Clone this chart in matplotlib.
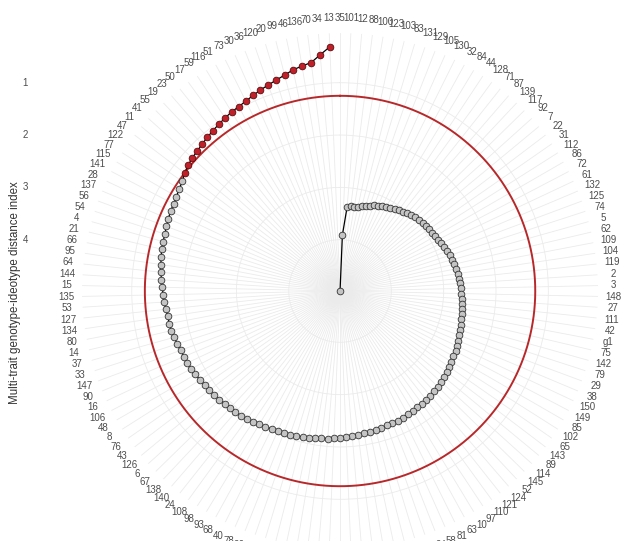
import numpy as np
import matplotlib
matplotlib.use("Agg")
import matplotlib.pyplot as plt
from matplotlib.transforms import ScaledTranslation

plt.rcParams["font.family"] = ["Liberation Sans", "DejaVu Sans"]

# genotypes in plotted order (clockwise from the top), ranked by MGIDI
genotypes = [
    "35", "101", "12", "88", "100", "123", "103", "83", "131", "129",
    "105", "130", "32", "84", "44", "128", "71", "87", "139", "117",
    "92", "7", "22", "31", "112", "86", "72", "61", "132", "125",
    "74", "5", "62", "109", "104", "119", "2", "3", "148", "27",
    "111", "42", "g1", "75", "142", "79", "29", "38", "150", "149",
    "85", "102", "65", "143", "89", "114", "145", "52", "124", "121",
    "110", "97", "10", "63", "81", "58", "94", "18", "146", "57",
    "26", "133", "9", "69", "113", "45", "82", "25", "107", "39",
    "91", "60", "118", "49", "96", "78", "40", "68", "93", "98",
    "108", "24", "140", "138", "67", "6", "126", "43", "76", "8",
    "48", "106", "16", "90", "147", "33", "37", "14", "80", "134",
    "127", "53", "135", "15", "144", "64", "95", "66", "21", "4",
    "54", "56", "137", "28", "141", "115", "77", "122", "47", "11",
    "41", "55", "19", "23", "50", "17", "59", "116", "51", "73",
    "30", "36", "120", "20", "99", "46", "136", "70", "34", "13",
]

mgidi = [
    4.98, 3.91, 3.37, 3.35, 3.35, 3.34, 3.31, 3.28, 3.25, 3.22,
    3.20, 3.17, 3.14, 3.12, 3.09, 3.07, 3.05, 3.02, 3.00, 2.97,
    2.95, 2.93, 2.91, 2.91, 2.90, 2.88, 2.86, 2.84, 2.82, 2.80,
    2.78, 2.76, 2.74, 2.72, 2.71, 2.70, 2.69, 2.67, 2.66, 2.65,
    2.63, 2.62, 2.61, 2.60, 2.59, 2.57, 2.55, 2.53, 2.51, 2.49,
    2.48, 2.46, 2.44, 2.42, 2.40, 2.38, 2.36, 2.35, 2.34, 2.33,
    2.32, 2.31, 2.30, 2.29, 2.28, 2.27, 2.26, 2.26, 2.25, 2.24,
    2.23, 2.22, 2.21, 2.20, 2.19, 2.18, 2.17, 2.15, 2.14, 2.13,
    2.11, 2.10, 2.09, 2.07, 2.06, 2.05, 2.04, 2.02, 2.00, 1.98,
    1.96, 1.94, 1.92, 1.91, 1.90, 1.88, 1.86, 1.84, 1.83, 1.81,
    1.79, 1.77, 1.75, 1.74, 1.73, 1.71, 1.69, 1.67, 1.66, 1.65,
    1.63, 1.61, 1.60, 1.58, 1.56, 1.54, 1.52, 1.50, 1.48, 1.47,
    1.46, 1.44, 1.42, 1.40, 1.39, 1.37, 1.34, 1.31, 1.25, 1.21,
    1.18, 1.16, 1.13, 1.10, 1.07, 1.04, 1.01, 0.98, 0.96, 0.93,
    0.89, 0.85, 0.81, 0.77, 0.72, 0.66, 0.62, 0.58, 0.45, 0.31,
]

n_selected = 22
r_ticks = [1, 2, 3, 4]

n = len(genotypes)
theta = 2 * np.pi * np.arange(n) / n
values = np.array(mgidi)
selected = np.arange(n) >= n - n_selected
cutpoint = values[selected].max()

fig = plt.figure(figsize=(6.34, 5.41), dpi=100)
ax = fig.add_axes([0.1294, -0.0148, 0.8139, 0.9538], projection="polar")
ax.set_theta_zero_location("N")
ax.set_theta_direction(-1)
ax.set_ylim(4.98, 0.05)  # reversed: lower index sits further out

# spokes and rings
ax.set_xticks(theta)
ax.set_xticklabels(genotypes, fontsize=7, color="#4d4d4d")
ax.set_yticks(r_ticks)
ax.set_yticklabels([])
ax.grid(True, color="#ebebeb", linewidth=0.6)
ax.spines["polar"].set_visible(False)
ax.tick_params(axis="x", pad=4, length=0)
ax.set_facecolor("white")

for lab, t in zip(ax.get_xticklabels(), theta):
    lab.set_rotation(-20 * np.sin(2 * t))

# cut point circle
circ = np.linspace(0, 2 * np.pi, 400)
ax.plot(circ, np.full_like(circ, cutpoint), color="#b8282a", linewidth=1.4, zorder=2)

# genotype path
ax.plot(theta, values, color="black", linewidth=0.9, zorder=3)
ax.plot(theta[~selected], values[~selected], "o", ms=4.8, mfc="#c4c4c4",
        mec="#333333", mew=0.6, zorder=4)
ax.plot(theta[selected], values[selected], "o", ms=4.8, mfc="#c0202a",
        mec="#5a0d0d", mew=0.6, zorder=4)

# radial axis labels drawn on the left, ggplot style
shift = ScaledTranslation(-3.15, 0, fig.dpi_scale_trans)
for v in r_ticks:
    ax.text(0, v, str(v), transform=ax.transData + shift, fontsize=7,
            color="#4d4d4d", ha="center", va="center", clip_on=False)

fig.text(0.024, 0.46, "Multi-trait genotype-ideotype distance index",
         rotation=90, ha="center", va="center", fontsize=8.3, color="#333333")

fig.savefig("out.png", dpi=100)
